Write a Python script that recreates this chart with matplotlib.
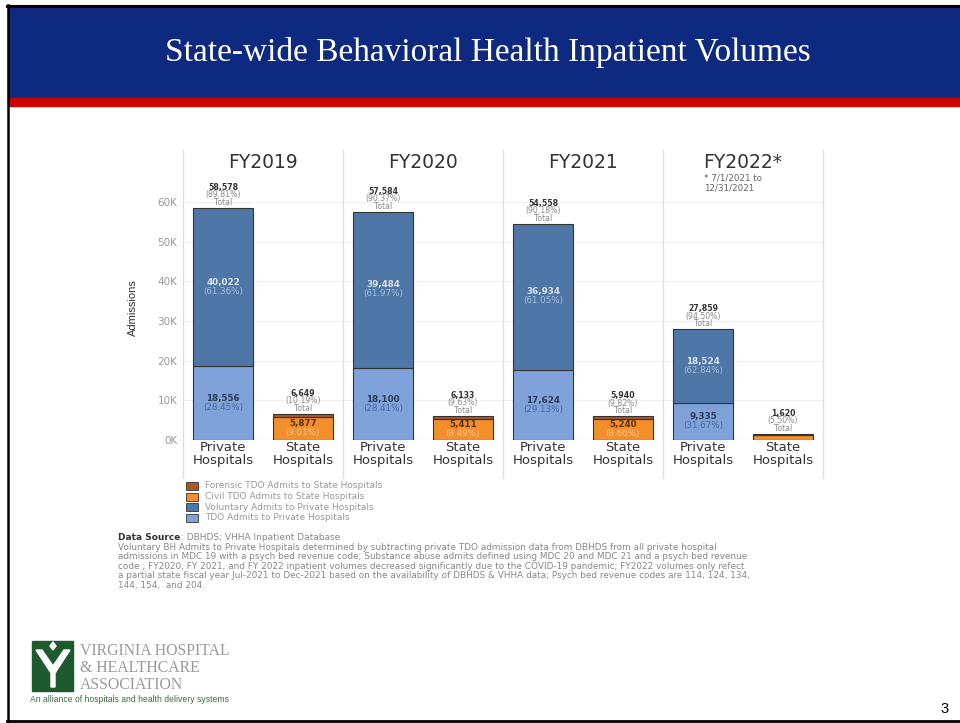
'''
State-wide behavioral health inpatient volumes, recreated as a stacked bar chart
laid out on a presentation slide.
'''
import matplotlib
matplotlib.use("Agg")
import matplotlib.pyplot as plt
from matplotlib.patches import Rectangle, Polygon

# Data
years = ["FY2019", "FY2020", "FY2021", "FY2022*"]
tdo_private = [18556, 18100, 17624, 9335]
vol_private = [40022, 39484, 36934, 18524]
civil_state = [5877, 5411, 5240, 1250]
forensic_state = [772, 722, 700, 370]
civil_labeled = [True, True, True, False]
y_ticks = [0, 10000, 20000, 30000, 40000, 50000, 60000]
y_tick_labels = ["0K", "10K", "20K", "30K", "40K", "50K", "60K"]
legend_items = [
    "Forensic TDO Admits to State Hospitals",
    "Civil TDO Admits to State Hospitals",
    "Voluntary Admits to Private Hospitals",
    "TDO Admits to Private Hospitals",
]

# Colours
c_vol = "#4E77A8"
c_tdo = "#7FA2DB"
c_civil = "#F28E2B"
c_foren = "#A65A26"
c_edge = "#333333"
slide_blue = "#0E2A80"
slide_red = "#CC0000"

W, H = 960, 723
fig = plt.figure(figsize=(W / 100, H / 100), dpi=100)

# slide background layer in pixel coordinates
bg = fig.add_axes([0, 0, 1, 1], zorder=0)
bg.set_xlim(0, W)
bg.set_ylim(H, 0)
bg.axis("off")

bg.add_patch(Rectangle((8, 7), W - 8, 91, color=slide_blue))
bg.add_patch(Rectangle((8, 98), W - 8, 8, color=slide_red))
bg.plot([7, W], [5.5, 5.5], color="black", lw=2.2)
bg.plot([8, 8], [5, 721], color="black", lw=1.8)
bg.plot([7, W], [720.5, 720.5], color="black", lw=2)
bg.text(488, 53, "State-wide Behavioral Health Inpatient Volumes", color="white",
        fontsize=24, family="Liberation Serif", ha="center", va="center")
bg.text(945, 709, "3", fontsize=10.5, family="Liberation Sans", ha="center", va="center")

# logo
bg.add_patch(Rectangle((32, 641), 41, 50, color="#1F5A2E"))
bg.add_patch(Polygon([(36, 650), (42, 650), (53, 666), (64, 650), (70, 650),
                      (55, 673), (55, 687), (51, 687), (51, 673)], color="white"))
bg.add_patch(Polygon([(53, 642), (56, 646), (53, 650), (50, 646)], color="white"))
for txt, yb in [("VIRGINIA HOSPITAL", 655), ("& HEALTHCARE", 672), ("ASSOCIATION", 689)]:
    bg.text(80, yb, txt, family="Liberation Serif", fontsize=11.3,
            color="#9A9A9A", va="baseline")
bg.text(30, 699, "An alliance of hospitals and health delivery systems",
        family="Liberation Sans", fontsize=6.2, color="#3A6E3E", va="center")

# chart axes: 0 at pixel 440, top at pixel 175
top_val = (440 - 175) / 39.67 * 10000
ax = fig.add_axes([183 / W, 1 - 440 / H, 640 / W, 265 / H], zorder=1)
ax.set_facecolor("none")
ax.set_xlim(-0.5, 7.5)
ax.set_ylim(0, top_val)

xp = [2 * i for i in range(4)]
xs = [2 * i + 1 for i in range(4)]
bw = 0.75
ax.bar(xp, tdo_private, width=bw, color=c_tdo, edgecolor=c_edge, lw=0.8, zorder=3)
ax.bar(xp, vol_private, bottom=tdo_private, width=bw, color=c_vol, edgecolor=c_edge, lw=0.8, zorder=3)
ax.bar(xs, civil_state, width=bw, color=c_civil, edgecolor=c_edge, lw=0.8, zorder=3)
ax.bar(xs, forensic_state, bottom=civil_state, width=bw, color=c_foren, edgecolor=c_edge, lw=0.8, zorder=3)

ax.set_yticks(y_ticks)
ax.set_yticklabels(y_tick_labels, color="#999999", fontsize=7.5)
ax.set_xticks(xp + xs)
ax.set_xticklabels([], fontsize=1)
ax.tick_params(length=0, pad=4)
for sp in ax.spines.values():
    sp.set_visible(False)
ax.yaxis.grid(True, color="#EFEFEF", lw=0.8)
ax.set_axisbelow(True)
ax.axhline(0, color="#DDDDDD", lw=0.8, zorder=2)

xt = ax.get_xaxis_transform()
for xv in [-0.5, 1.5, 3.5, 5.5, 7.5]:
    ax.plot([xv, xv], [1.094, -0.143], transform=xt, color="#DDDDDD", lw=0.9, clip_on=False)

for i, yr in enumerate(years):
    ax.text(2 * i + 0.5, 1.049, yr, transform=xt, ha="center", va="center",
            fontsize=13.5, color="#333333")
    for xv, nm in [(2 * i, "Private"), (2 * i + 1, "State")]:
        ax.text(xv, -0.03, nm, transform=xt, ha="center", va="center",
                fontsize=9.5, color="#333333")
        ax.text(xv, -0.079, "Hospitals", transform=xt, ha="center", va="center",
                fontsize=9.5, color="#333333")
ax.text(6.01, 0.97, "* 7/1/2021 to\n12/31/2021", transform=xt, ha="left", va="center",
        fontsize=6.3, color="#666666", linespacing=1.15)

ax.text(-0.078, 0.5, "Admissions", transform=ax.transAxes, rotation=90, ha="center",
        va="center", fontsize=8, color="#333333", family="Liberation Sans")


def seg_label(x, yc, num, pct, c_num, c_pct):
    ax.annotate(f"{num:,}", (x, yc), xytext=(0, 5), textcoords="offset pixels",
                ha="center", va="center", fontsize=6.3, fontweight="bold", color=c_num, zorder=4)
    ax.annotate(f"({pct:.2f}%)", (x, yc), xytext=(0, -4), textcoords="offset pixels",
                ha="center", va="center", fontsize=6.3, color=c_pct, zorder=4)


def total_label(x, top, num, pct):
    ax.annotate("Total", (x, top), xytext=(0, 5.5), textcoords="offset pixels",
                ha="center", va="center", fontsize=5.6, color="#888888")
    ax.annotate(f"({pct:.2f}%)", (x, top), xytext=(0, 13), textcoords="offset pixels",
                ha="center", va="center", fontsize=5.6, color="#888888")
    ax.annotate(f"{num:,}", (x, top), xytext=(0, 20.5), textcoords="offset pixels",
                ha="center", va="center", fontsize=5.6, fontweight="bold", color="#333333")


for i in range(4):
    priv = tdo_private[i] + vol_private[i]
    state = civil_state[i] + forensic_state[i]
    allv = priv + state
    total_label(xp[i], priv, priv, priv / allv * 100)
    total_label(xs[i], state, state, state / allv * 100)
    seg_label(xp[i], tdo_private[i] / 2, tdo_private[i], tdo_private[i] / allv * 100,
              "#2E3B55", "#4C6797")
    seg_label(xp[i], tdo_private[i] + vol_private[i] / 2, vol_private[i],
              vol_private[i] / allv * 100, "#DDE4EF", "#A8BDDB")
    if civil_labeled[i]:
        seg_label(xs[i], civil_state[i] / 2, civil_state[i], civil_state[i] / allv * 100,
                  "#5A3412", "#FBC48A")

# legend
leg_colors = [c_foren, c_civil, c_vol, c_tdo]
for k, (lab, col) in enumerate(zip(legend_items, leg_colors)):
    yy = 486 + k * 10.5
    bg.add_patch(Rectangle((186, yy - 4), 12, 8, facecolor=col, edgecolor=c_edge, lw=0.6))
    bg.text(205, yy, lab, fontsize=6.5, color="#999999", va="center")

# data source block
ds = bg.text(118, 537, "Data Source", fontsize=6.5, fontweight="bold", color="#333333", va="center")
bg.annotate(": DBHDS; VHHA Inpatient Database", xy=(1, 0.5), xycoords=ds,
            xytext=(1, 0), textcoords="offset pixels",
            fontsize=6.5, color="#888888", va="center", ha="left")
notes = [
    "Voluntary BH Admits to Private Hospitals determined by subtracting private TDO admission data from DBHDS from all private hospital",
    "admissions in MDC 19 with a psych bed revenue code; Substance abuse admits defined using MDC 20 and MDC 21 and a psych bed revenue",
    "code ; FY2020, FY 2021, and FY 2022 inpatient volumes decreased significantly due to the COVID-19 pandemic; FY2022 volumes only refect",
    "a partial state fiscal year Jul-2021 to Dec-2021 based on the availability of DBHDS & VHHA data; Psych bed revenue codes are 114, 124, 134,",
    "144, 154,  and 204.",
]
for k, line in enumerate(notes):
    bg.text(118, 547 + k * 9.6, line, fontsize=6.4, color="#888888", va="center")

fig.savefig("out.png", dpi=100)
